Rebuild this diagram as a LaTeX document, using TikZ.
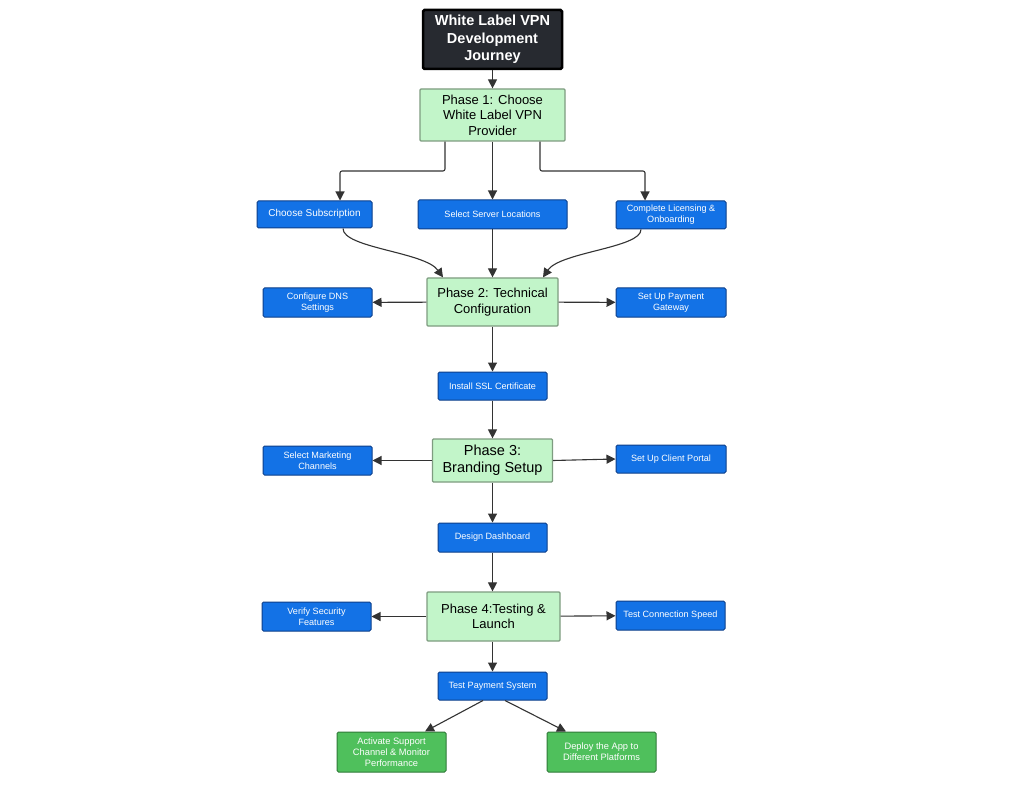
\documentclass[tikz,border=0pt]{standalone}
\usepackage{fontspec}
\setmainfont{Liberation Sans}
\usetikzlibrary{arrows.meta}
\definecolor{bluefill}{HTML}{1372E6}
\definecolor{blueline}{HTML}{0D3F8A}
\definecolor{phasefill}{HTML}{C2F5C9}
\definecolor{phaseline}{HTML}{7E9C80}
\definecolor{endfill}{HTML}{4FC05C}
\definecolor{endline}{HTML}{2F7A38}
\definecolor{titlefill}{HTML}{272A30}
\definecolor{conn}{HTML}{333333}
\tikzset{
  bluebox/.style={draw=blueline, fill=bluefill, line width=1pt, rounded corners=1.5pt, text=white, font=\fontsize{9.1}{10.8}\selectfont, align=center, inner sep=0pt},
  phasebox/.style={draw=phaseline, fill=phasefill, line width=1.2pt, rounded corners=1pt, text=black, font=\fontsize{13}{15.5}\selectfont, align=center, inner sep=0pt},
  endbox/.style={draw=endline, fill=endfill, line width=1pt, rounded corners=1.5pt, text=white, font=\fontsize{9.3}{10.8}\selectfont, align=center, inner sep=0pt},
  titlebox/.style={draw=black, fill=titlefill, line width=2.5pt, rounded corners=1.5pt, text=white, font=\bfseries\fontsize{14.5}{17.5}\selectfont, align=center, inner sep=0pt},
  conn/.style={draw=conn, line width=1.1pt, -{Triangle[length=9pt,width=9pt]}},
}
\begin{document}
\begin{tikzpicture}[x=1pt,y=-1pt]
\useasboundingbox (0,0) rectangle (1024,791);
\fill[white] (0,0) rectangle (1024,791);

\node[titlebox, minimum width=139, minimum height=59] (title) at (492.5,39.5) {White Label VPN\\Development\\Journey};
\node[phasebox, minimum width=145, minimum height=52] (p1) at (492.5,115) {Phase 1: Choose\\White Label VPN\\Provider};

\node[bluebox, minimum width=115, minimum height=27, font=\fontsize{10}{12}\selectfont] (cs) at (314.5,214.5) {\raisebox{3pt}{Choose Subscription}};
\node[bluebox, minimum width=149, minimum height=29] (ssl0) at (492.5,214.5) {Select Server Locations};
\node[bluebox, minimum width=110, minimum height=28] (cl) at (671,215) {Complete Licensing \&\\Onboarding};

\node[phasebox, minimum width=131, minimum height=48] (p2) at (492.5,302) {Phase 2: Technical\\Configuration};
\node[bluebox, minimum width=109, minimum height=29] (dns) at (317.5,302.5) {Configure DNS\\Settings};
\node[bluebox, minimum width=110, minimum height=29] (pay) at (671,302.5) {Set Up Payment\\Gateway};
\node[bluebox, minimum width=109, minimum height=28] (ssl) at (492.5,386) {Install SSL Certificate};

\node[phasebox, minimum width=120, minimum height=43, font=\fontsize{14.5}{17}\selectfont] (p3) at (492.5,460.5) {Phase 3:\\Branding Setup};
\node[bluebox, minimum width=109, minimum height=29] (mkt) at (317.5,460.5) {Select Marketing\\Channels};
\node[bluebox, minimum width=110, minimum height=28] (portal) at (671,459) {Set Up Client Portal};
\node[bluebox, minimum width=109, minimum height=29] (dash) at (492.5,537.5) {Design Dashboard};

\node[phasebox, minimum width=133, minimum height=49] (p4) at (493.5,616.5) {Phase 4:Testing \&\\Launch};
\node[bluebox, minimum width=109, minimum height=29] (sec) at (316.5,616.5) {Verify Security\\Features};
\node[bluebox, minimum width=109, minimum height=29] (speed) at (670.5,615.5) {Test Connection Speed};
\node[bluebox, minimum width=109, minimum height=28] (tps) at (492.5,686) {Test Payment System};

\node[endbox, minimum width=109, minimum height=40] (sup) at (391.5,752) {Activate Support\\Channel \& Monitor\\Performance};
\node[endbox, minimum width=109, minimum height=40] (dep) at (601.5,752) {Deploy the App to\\Different Platforms};

% connectors
\draw[conn] (title) -- (p1);
\draw[conn, rounded corners=2pt] (p1.south -| 445,0) |- (340,171) -- (cs.north -| 340,0);
\draw[conn] (p1) -- (ssl0);
\draw[conn, rounded corners=2pt] (p1.south -| 540,0) |- (645,171) -- (cl.north -| 645,0);

\draw[conn] (cs.south -| 343,0) .. controls (343,248) and (425,252) .. (p2.north -| 443,0);
\draw[conn] (ssl0) -- (p2);
\draw[conn] (cl.south -| 641,0) .. controls (641,248) and (560,252) .. (p2.north -| 543,0);

\draw[conn] (p2) -- (dns);
\draw[conn] (p2) -- (pay);
\draw[conn] (p2) -- (ssl);
\draw[conn] (ssl) -- (p3);

\draw[conn] (p3) -- (mkt);
\draw[conn] (p3.east) -- (portal.west);
\draw[conn] (p3) -- (dash);
\draw[conn] (dash.south) -- (dash.south |- p4.north);

\draw[conn] (p4) -- (sec);
\draw[conn] (p4) -- (speed);
\draw[conn] (p4.south -| tps.north) -- (tps.north);

\draw[conn] (tps.south -| 483,0) -- (sup.north -| 425,0);
\draw[conn] (tps.south -| 505,0) -- (dep.north -| 566,0);
\end{tikzpicture}
\end{document}
